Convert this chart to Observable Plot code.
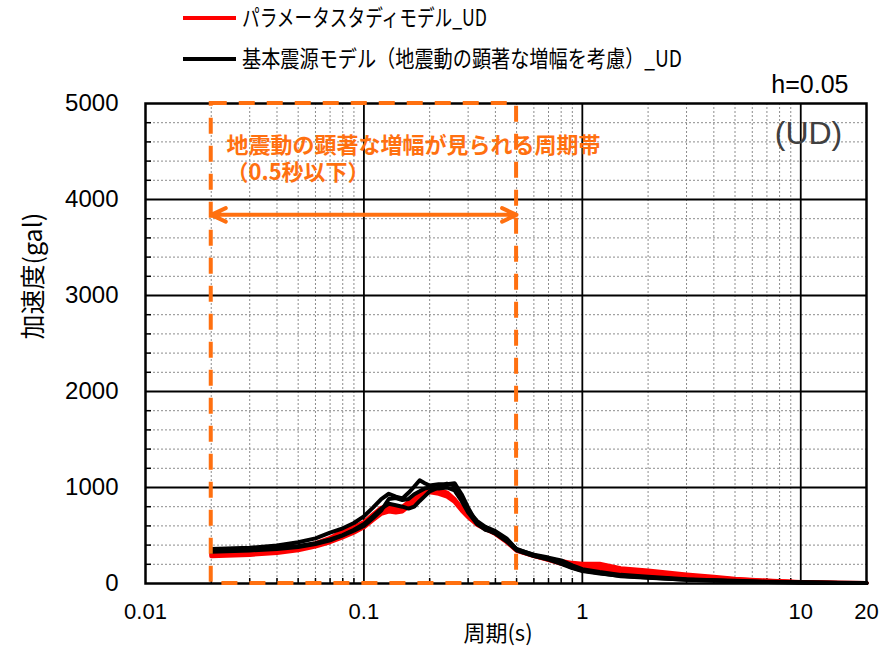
<!DOCTYPE html>
<html><head><meta charset="utf-8">
<script src="https://cdn.jsdelivr.net/npm/d3@7"></script>
<script src="https://cdn.jsdelivr.net/npm/@observablehq/plot@0.6"></script>
<style>
body{margin:0;background:#fff;}
#legend{width:884px;height:80px;}
#legend svg, #chart svg{display:block;}
</style></head><body>
<div id="legend"></div>
<div id="chart"></div>
<script>
// ---- data ----
const periods = [0.02,0.03,0.04,0.05,0.06,0.07,0.08,0.09,0.1,0.11,0.12,0.13,0.14,0.15,0.16,0.17,0.18,0.19,0.2,0.22,0.24,0.26,0.28,0.3,0.33,0.36,0.4,0.45,0.5,0.6,0.7,0.8,0.9,1.0,1.2,1.5,2,3,4,5,7,10,15,20];
const red1 = [310,325,345,375,420,475,550,590,640,720,790,810,790,800,850,890,930,960,985,975,950,880,790,710,630,580,525,445,350,290,255,235,215,205,205,160,135,95,70,50,30,15,8,5];
const red2 = [285,298,318,345,385,430,480,530,585,660,725,750,740,750,800,850,890,930,950,935,905,850,760,690,610,565,515,430,340,285,245,205,180,165,145,120,100,70,52,40,25,12,6,4];
const red3 = [300,312,330,360,400,450,520,570,620,700,760,780,770,780,830,880,920,950,970,960,930,870,780,700,620,570,520,440,345,288,250,220,195,185,175,140,115,80,60,45,28,14,7,4];
const black1 = [360,372,395,430,470,530,575,630,700,790,880,935,905,885,945,1010,1075,1045,1020,1035,1035,1045,930,790,620,560,530,450,360,295,260,215,165,135,110,75,60,40,30,24,15,10,6,4];
const black2 = [345,355,370,390,420,460,505,560,620,700,780,830,815,800,780,800,860,910,960,1000,1040,1020,890,760,650,590,545,470,355,300,270,240,190,150,120,90,70,45,35,28,18,12,7,5];
const black3 = [330,345,360,380,410,450,500,550,600,680,760,880,890,870,880,930,960,990,1000,990,1000,970,860,740,620,570,520,440,345,285,250,205,160,130,105,80,62,40,30,24,15,10,6,4];

const seriesNames = ["パラメータスタディモデル_UD", "基本震源モデル（地震動の顕著な増幅を考慮）_UD"];
const seriesColors = ["#ff0000", "#000000"];
const redRuns = [red1, red2, red3];
const blackRuns = [black1, black2, black3];

const xTickValues = [0.01, 0.1, 1, 10, 20];
const yTickValues = [0, 1000, 2000, 3000, 4000, 5000];
const xMinor = [];
for (const d of [0.01, 0.1, 1]) for (let k = 2; k <= 9; k++) xMinor.push(+(k * d).toPrecision(3));
const xMajor = [0.1, 1, 10];
const yMinor = d3.range(200, 5000, 200).filter(v => v % 1000 !== 0);
const yMajor = [1000, 2000, 3000, 4000];

const bandRange = [0.02, 0.5];       // 0.5秒以下の周期帯
const arrowLevel = 3840;
const bandTitle = "地震動の顕著な増幅が見られる周期帯";
const bandSub = "（0.5秒以下）";
const dampingLabel = "h=0.05";
const componentLabel = "(UD)";
const xLabel = "周期(s)";
const yLabel = "加速度(gal)";

// ---- build table ----
const rows = [];
redRuns.forEach((arr, i) => arr.forEach((v, j) => rows.push({T: periods[j], A: v, run: "r" + i, kind: 0})));
blackRuns.forEach((arr, i) => arr.forEach((v, j) => rows.push({T: periods[j], A: v, run: "b" + i, kind: 1})));

const orange = "#ff7010";
const jp = "'Noto Sans CJK JP', sans-serif";

// ---- legend ----
const legendW = [245, 440];
const legendY = [18, 59];
let lg = `<svg width="884" height="80" xmlns="http://www.w3.org/2000/svg" font-family="${jp}" font-size="23">`;
seriesNames.forEach((name, i) => {
  lg += `<line x1="183" x2="236" y1="${legendY[i]}" y2="${legendY[i]}" stroke="${seriesColors[i]}" stroke-width="4"/>`;
  lg += `<text x="242" y="${legendY[i]}" dy="0.36em" fill="#000" textLength="${legendW[i]}" lengthAdjust="spacingAndGlyphs">${name}</text>`;
});
lg += `</svg>`;
document.getElementById("legend").innerHTML = lg;

// ---- chart ----
const chart = Plot.plot({
  width: 884, height: 573,
  marginTop: 23, marginBottom: 70, marginLeft: 145, marginRight: 18,
  x: {type: "log", domain: [0.01, 20]},
  y: {domain: [0, 5000]},
  style: {fontFamily: "'Liberation Sans', Arial, sans-serif", fontSize: "23px", color: "#000", background: "#fff", overflow: "visible"},
  marks: [
    Plot.gridX(xMinor, {stroke: "#8c8c8c", strokeOpacity: 1, strokeWidth: 1, strokeDasharray: "2,2"}),
    Plot.gridY(yMinor, {stroke: "#8c8c8c", strokeOpacity: 1, strokeWidth: 1, strokeDasharray: "2,2"}),
    Plot.gridX(xMajor, {stroke: "#000", strokeOpacity: 1, strokeWidth: 1.8}),
    Plot.gridY(yMajor, {stroke: "#000", strokeOpacity: 1, strokeWidth: 1.8}),
    Plot.axisX(xMinor, {tickSize: -5, tickFormat: () => "", label: null, strokeWidth: 1.5}),
    Plot.axisY(yMinor, {tickSize: -6, tickFormat: () => "", label: null, strokeWidth: 1.5}),
    Plot.axisX(xTickValues, {tickSize: 0, tickPadding: 20, tickFormat: d => String(d), label: null, fontSize: 22}),
    Plot.axisY(yTickValues, {tickSize: 0, tickPadding: 27, tickFormat: d => String(d), label: null, fontSize: 24}),
    Plot.line(rows.filter(d => d.kind === 0), {x: "T", y: "A", z: "run", stroke: seriesColors[0], strokeWidth: 4, strokeLinejoin: "round"}),
    Plot.line(rows.filter(d => d.kind === 1), {x: "T", y: "A", z: "run", stroke: seriesColors[1], strokeWidth: 4, strokeLinejoin: "round"}),
    Plot.frame({stroke: "#000", strokeWidth: 2.5}),
    Plot.rect([bandRange], {x1: d => d[0], x2: d => d[1], y1: 0, y2: 5000, fill: "none", stroke: orange, strokeWidth: 4, strokeDasharray: "16,12"}),
    Plot.arrow(bandRange, {x1: Math.sqrt(bandRange[0] * bandRange[1]), x2: d => d, y1: arrowLevel, y2: arrowLevel, stroke: orange, strokeWidth: 4, headLength: 6, headAngle: 50}),
    Plot.text([bandTitle + "\n" + bandSub], {frameAnchor: "top-left", dx: 81, dy: 31, textAnchor: "start", lineHeight: 1.2, fill: orange, fontWeight: "bold", fontSize: 22, fontFamily: jp}),
    Plot.text([componentLabel], {frameAnchor: "top-right", dx: -58, dy: 18, textAnchor: "middle", fill: "#404040", fontSize: 32}),
    Plot.text([dampingLabel], {frameAnchor: "top-right", dx: -18, dy: -11, textAnchor: "end", lineAnchor: "bottom", fill: "#000", fontSize: 25}),
    Plot.text([xLabel], {frameAnchor: "bottom", dx: -8, dy: 57, fill: "#000", fontSize: 22, fontFamily: jp}),
    Plot.text([yLabel], {frameAnchor: "left", dx: -112, dy: -4, rotate: -90, fill: "#000", fontSize: 25, fontFamily: jp})
  ]
});
document.getElementById("chart").appendChild(chart);
</script>
</body></html>
